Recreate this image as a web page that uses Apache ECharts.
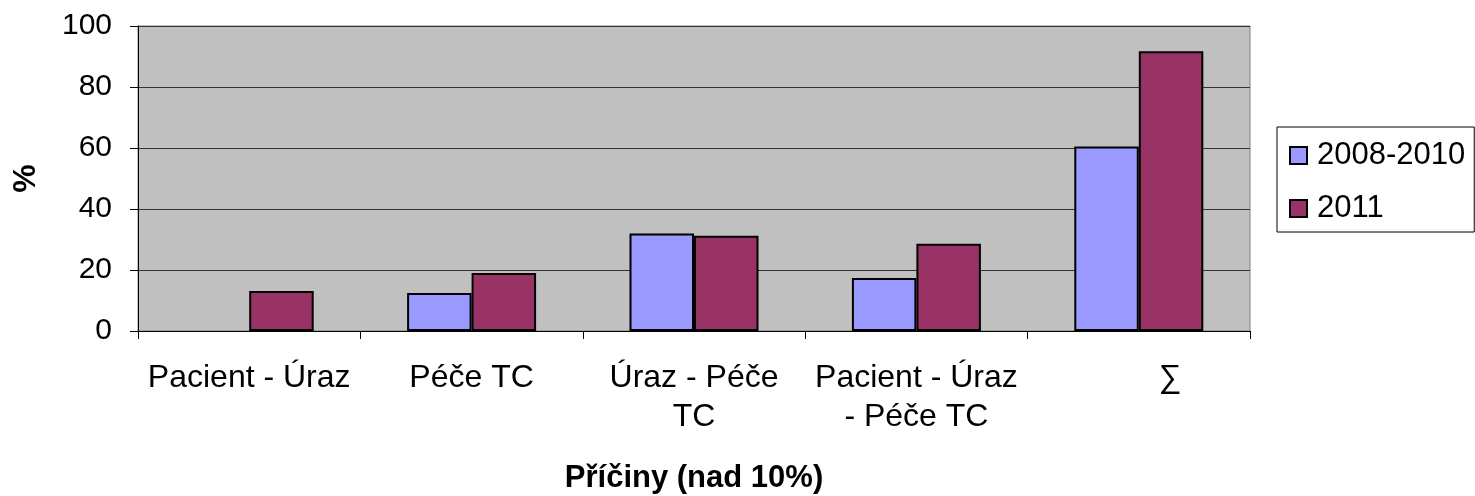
<!DOCTYPE html>
<html><head><meta charset="utf-8">
<script src="https://cdn.jsdelivr.net/npm/echarts@6/dist/echarts.min.js"></script>
<style>html,body{margin:0;padding:0;background:#fff}#c{width:1475px;height:496px}</style>
</head><body><div id="c"></div>
<script>
const categories = ['Pacient - Úraz', 'Péče TC', 'Úraz - Péče\nTC', 'Pacient - Úraz\n- Péče TC', '∑'];
const seriesNames = ['2008-2010', '2011'];
const values2008 = [null, 12.5, 32, 17.4, 60.5];
const values2011 = [13.1, 19, 31.2, 28.6, 91.7];
const yTicks = [0, 20, 40, 60, 80, 100];
const colors = ['#9999FF', '#993366'];

const font = 'Liberation Sans, Arial, sans-serif';
const chart = echarts.init(document.getElementById('c'), null, {renderer: 'canvas'});
chart.setOption({
  animation: false,
  textStyle: {fontFamily: font},
  grid: {left: 138, right: 225, top: 26, bottom: 165, show: true, backgroundColor: '#C0C0C0', borderColor: '#808080', borderWidth: 1, containLabel: false, outerBoundsMode: 'none'},
  legend: {
    orient: 'vertical', left: 1277, top: 127,
    data: seriesNames,
    borderColor: '#000', borderWidth: 1, borderRadius: 0,
    padding: [13, 9, 8, 12], itemGap: 22,
    itemWidth: 17, itemHeight: 17, icon: 'rect',
    itemStyle: {borderColor: '#000', borderWidth: 2},
    textStyle: {fontSize: 31, color: '#000', fontFamily: font, padding: [0, 0, 0, 5]}
  },
  xAxis: {
    type: 'category', data: categories,
    name: 'Příčiny (nad 10%)', nameLocation: 'middle', nameGap: 132,
    nameTextStyle: {fontSize: 31, fontWeight: 'bold', color: '#000', fontFamily: font},
    axisLine: {lineStyle: {color: '#000', width: 1}},
    axisTick: {show: true, length: 8, lineStyle: {color: '#000'}},
    axisLabel: {fontSize: 32, color: '#000', lineHeight: 39, margin: 28, interval: 0, fontFamily: font,
      formatter: v => v === '∑' ? '{s|' + v + '}' : v,
      rich: {s: {fontSize: 32, color: '#000', fontFamily: font, padding: [0, 0, 0, 62]}}}
  },
  yAxis: {
    type: 'value', min: 0, max: 100, interval: 20,
    name: '%', nameLocation: 'middle', nameGap: 96, nameRotate: 90,
    nameTextStyle: {fontSize: 32, fontWeight: 'bold', color: '#000', fontFamily: font},
    axisLine: {show: true, lineStyle: {color: '#000', width: 1}},
    axisTick: {show: true, length: 8, lineStyle: {color: '#000'}},
    splitLine: {lineStyle: {color: '#333', width: 1}},
    axisLabel: {fontSize: 30, color: '#000', margin: 26, fontFamily: font,
      formatter: v => yTicks.includes(v) ? String(v) : ''}
  },
  series: [
    {name: seriesNames[0], type: 'bar', data: values2008, barGap: '0%', barCategoryGap: '42%',
      itemStyle: {color: colors[0], borderColor: '#000', borderWidth: 2}},
    {name: seriesNames[1], type: 'bar', data: values2011, barGap: '0%', barCategoryGap: '42%',
      itemStyle: {color: colors[1], borderColor: '#000', borderWidth: 2}}
  ]
});
</script></body></html>
